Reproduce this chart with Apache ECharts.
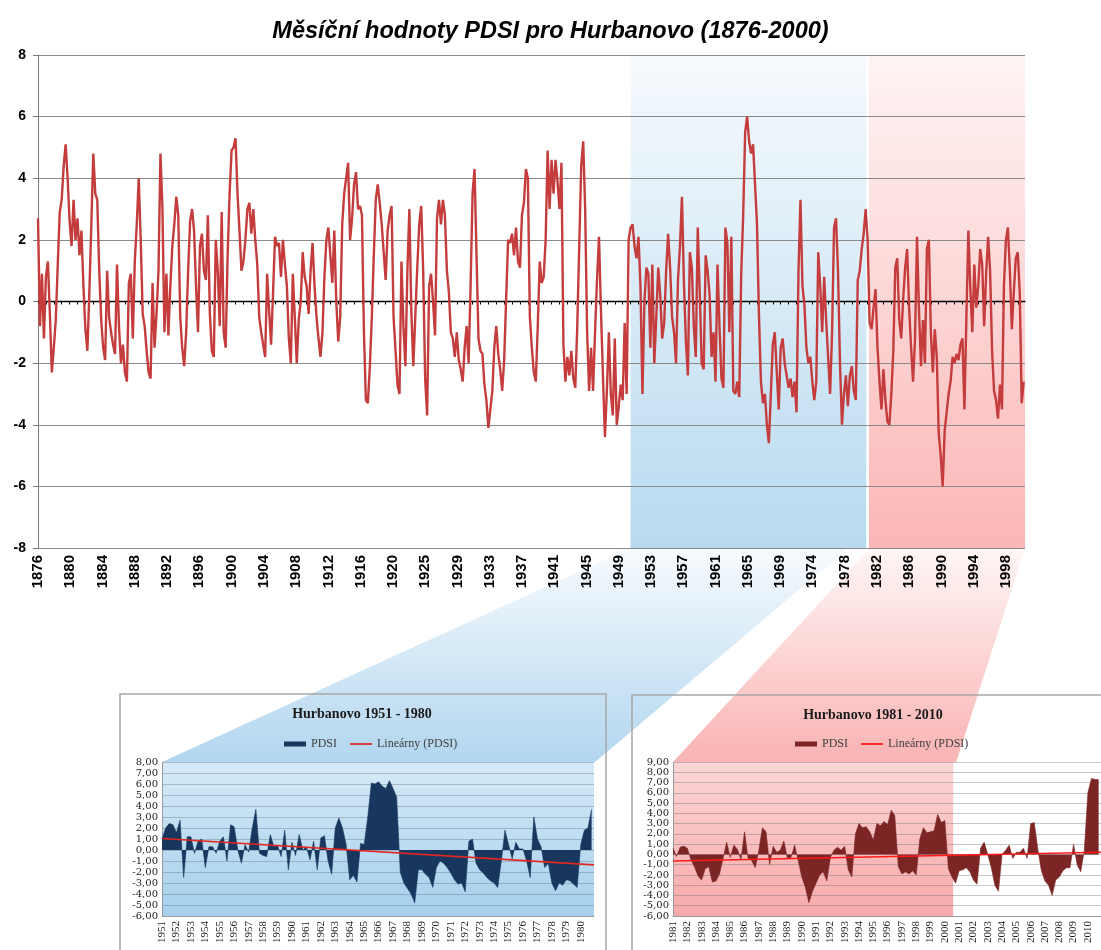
<!DOCTYPE html>
<html lang="cs">
<head>
<meta charset="utf-8">
<title>Měsíční hodnoty PDSI pro Hurbanovo</title>
<script src="https://cdn.jsdelivr.net/npm/echarts@6.0.0/dist/echarts.min.js"></script>
<style>
  html, body { margin: 0; padding: 0; background: #fff; }
  #chart { width: 1101px; height: 950px; }
</style>
</head>
<body>
<div id="chart"></div>
<script>
// ---- data ----
const firstYear = 1876;
const monthCount = 1500;      // 1876-01 .. 2000-12
const sampleStep = 3;         // one reading every 3rd month
const pdsiMonthly = [
  2.7, -0.8, 0.9, -1.2, 0.8, 1.3, -0.4, -2.3, -1.5, -0.6,
  1.2, 2.9, 3.3, 4.4, 5.1, 4.0, 2.6, 1.8, 3.3, 2.0,
  2.7, 1.5, 2.3, 0.5, -0.9, -1.6, 0.3, 2.5, 4.8, 3.5,
  3.3, 1.0, -0.6, -1.5, -1.9, 1.0, -0.5, -1.0, -1.4, -1.7,
  1.2, -0.8, -2.0, -1.4, -2.3, -2.6, 0.6, 0.9, -1.2, 1.3,
  2.5, 4.0, 2.0, -0.4, -0.8, -1.6, -2.3, -2.5, 0.6, -1.5,
  -0.4, 1.0, 4.8, 3.0, -1.0, 0.9, -1.1, 0.5, 1.8, 2.5,
  3.4, 2.8, -0.5, -1.5, -2.1, -1.0, 1.0, 2.6, 3.0, 2.3,
  0.5, -1.0, 1.8, 2.2, 1.0, 0.7, 2.8, -0.4, -1.6, -1.8,
  2.0, 1.0, -0.8, 2.9, -1.0, -1.5, 1.5, 3.5, 4.9, 5.0,
  5.3, 3.5, 2.3, 1.0, 1.3, 2.0, 3.0, 3.2, 2.2, 3.0,
  2.0, 1.2, -0.5, -1.0, -1.4, -1.8, 0.9, -0.3, -1.4, 0.3,
  2.1, 1.8, 1.9, 0.8, 2.0, 1.2, 0.5, -1.2, -2.0, 0.9,
  -0.5, -2.0, -0.6, 0.0, 1.6, 0.8, 0.5, -0.4, 1.0, 1.9,
  0.5, -0.5, -1.2, -1.8, -1.0, 0.8, 2.0, 2.4, 1.5, 0.6,
  2.3, 0.0, -1.3, -0.5, 2.5, 3.5, 4.0, 4.5, 2.0, 2.7,
  3.8, 4.2, 3.0, 3.1, 2.8, -1.0, -3.2, -3.3, -2.1, -0.5,
  1.5, 3.3, 3.8, 3.2, 2.5, 1.6, 0.7, 2.3, 2.8, 3.1,
  -0.5, -1.6, -2.7, -3.0, 1.3, -0.8, -2.1, 1.0, 3.0, -0.3,
  -2.1, -0.5, 1.1, 2.5, 3.1, 1.0, -2.5, -3.7, 0.5, 0.9,
  0.0, -1.1, 2.7, 3.3, 2.5, 3.3, 2.8, 1.0, 0.3, -1.0,
  -1.2, -1.8, -1.0, -1.9, -2.2, -2.6, -1.5, -0.8, -2.0, 0.5,
  3.5, 4.3, 1.5, -1.2, -1.6, -1.7, -2.7, -3.2, -4.1, -3.5,
  -2.9, -1.5, -0.8, -1.7, -2.2, -2.9, -1.9, 0.1, 2.0, 1.9,
  2.2, 1.5, 2.4, 1.3, 1.1, 2.8, 3.2, 4.3, 4.0, -0.5,
  -1.5, -2.3, -2.6, -0.8, 1.3, 0.6, 0.8, 2.0, 4.9, 3.0,
  4.6, 3.5, 4.6, 3.9, 3.0, 4.5, -1.4, -2.6, -1.8, -2.4,
  -1.6, -2.5, -2.8, -0.8, 1.8, 4.4, 5.2, 3.0, -1.0, -2.9,
  -1.5, -2.9, -1.0, 0.7, 2.1, -0.3, -2.4, -4.4, -2.9, -1.0,
  -3.0, -3.7, -1.2, -4.0, -3.4, -2.7, -3.2, -0.7, -3.0, 2.0,
  2.4, 2.5, 1.8, 1.4, 2.1, 0.5, -3.0, 0.0, 1.1, 0.9,
  -1.5, 1.2, -2.0, -0.5, 1.1, 0.2, -1.2, -0.7, 1.0, 2.2,
  1.1, -0.5, -1.0, -2.0, 0.7, 1.8, 3.4, 0.6, -1.3, -2.4,
  1.6, 1.1, -0.8, -1.8, 2.4, 0.3, -2.0, -2.2, 1.5, 1.0,
  0.2, -1.8, -1.0, -2.6, 1.2, -0.8, -2.5, -2.8, 2.4, 1.9,
  -1.0, 2.1, -2.9, -3.0, -2.6, -3.1, 0.9, 2.8, 5.5, 6.0,
  5.2, 4.8, 5.1, 3.8, 2.5, -0.5, -2.6, -3.3, -3.0, -4.0,
  -4.6, -3.0, -1.4, -1.0, -2.3, -3.5, -1.5, -1.2, -2.0, -2.4,
  -2.8, -2.5, -3.1, -2.6, -3.6, 1.0, 3.3, 0.5, -0.1, -1.5,
  -2.0, -1.8, -2.6, -3.2, -2.6, 1.6, 0.5, -1.0, 0.8, -0.6,
  -1.8, -3.0, -1.0, 2.4, 2.7, 1.0, -2.0, -4.0, -3.0, -2.4,
  -3.4, -2.4, -2.1, -2.9, -3.2, 0.7, 1.0, 1.7, 2.2, 3.0,
  2.0, -0.7, -0.9, -0.2, 0.4, -1.5, -2.6, -3.5, -2.2, -3.2,
  -3.9, -4.0, -3.0, -1.6, 1.1, 1.4, -0.6, -1.2, 0.1, 1.1,
  1.7, -0.2, -1.5, -2.6, -1.2, 2.1, -0.3, -2.1, -0.6, -2.0,
  1.7, 2.0, -1.0, -2.3, -0.9, -1.8, -4.3, -5.0, -6.0, -4.2,
  -3.6, -3.0, -2.6, -1.8, -2.0, -1.7, -1.9, -1.4, -1.2, -3.5,
  -0.5, 2.3, 0.4, -1.0, 1.2, -0.2, 0.5, 1.7, 1.2, -0.8,
  0.9, 2.1, 1.0, -1.6, -2.9, -3.2, -3.8, -2.7, -3.5, 0.5,
  2.0, 2.4, 1.0, -0.9, 0.3, 1.4, 1.6, 0.3, -3.3, -2.6
];
const blueBand = [900, 1258];   // 1951 - 1980 (month index)
const redBand = [1262, 1499];   // 1981 - 2000

// insets: one reading every 3rd month
const insetStep = 3;
const insetMonths = 360;
const pdsi1951 = [
  1.0, 2.0, 2.4, 2.3, 1.6, 2.7, -2.5, 1.2, 1.2, -0.3,
  0.8, 1.0, -1.6, 0.3, 0.3, -0.3, 0.8, 1.2, -1.0, 2.3,
  2.1, 0.0, -1.2, 0.5, -0.2, 2.0, 3.7, -0.3, -0.5, -0.6,
  1.4, 0.3, 0.4, -0.6, 1.8, -1.8, 0.7, -0.5, 1.4, 0.0,
  0.3, -0.9, 0.8, -1.8, 1.1, 1.3, -1.0, -2.2, 2.0, 2.9,
  2.0, 0.5, -2.7, -2.3, -2.9, 0.6, 0.5, 3.0, 6.1, 6.0,
  6.2, 5.8, 5.6, 6.3, 5.6, 4.8, -2.0, -3.0, -3.5, -4.0,
  -4.8, -1.8, -1.8, -2.2, -2.5, -3.4, -1.6, -1.0, -1.2, -1.6,
  -2.1, -2.7, -3.1, -3.0, -3.8, 0.8, 1.0, -1.2, -1.8, -2.1,
  -2.5, -2.8, -3.0, -3.4, -1.0, 1.8, 0.5, -0.8, 0.7, 0.1,
  0.1, -1.0, -2.5, 3.0, 1.0, 0.3, -1.6, -1.2, -3.0, -3.7,
  -3.0, -3.2, -2.7, -2.8, -3.1, -3.4, 0.5, 1.8, 2.0, 3.7
];
const trend1951 = [1.05, -1.35];
const pdsi1981 = [
  0.6, -0.2, 0.7, 0.8, 0.6, -0.5, -1.2, -2.1, -2.5, -1.4,
  -1.2, -2.7, -2.6, -1.9, -0.4, 1.2, -0.3, 0.9, 0.5, -0.5,
  2.2, -0.4, -0.6, -1.3, 0.4, 2.6, 2.2, -1.0, 0.8, 0.2,
  0.4, 1.3, -0.4, -0.3, 0.9, -0.6, -2.2, -3.2, -4.7, -3.6,
  -2.8, -2.0, -1.7, -2.6, -0.3, 0.4, 0.7, 0.4, 0.8, -1.5,
  -2.2, 2.0, 3.0, 2.6, 2.7, 2.2, 1.4, 3.0, 2.8, 3.2,
  2.9, 4.3, 3.8, -1.2, -1.9, -1.7, -1.9, -1.6, -2.0, 1.5,
  2.6, 2.1, 2.2, 2.3, 3.9, 3.1, 3.3, -1.4, -2.2, -2.8,
  -1.6, -1.5, -1.3, -1.7, -2.5, -2.9, 0.6, 1.2, 0.0, -1.3,
  -3.0, -3.6, 0.0, 0.4, 0.9, -0.4, 0.2, 0.2, 0.6, -0.4,
  3.0, 3.1, 0.5, -1.6, -2.6, -3.0, -4.0, -2.5, -2.2, -1.6,
  -1.3, -1.3, 1.0, -1.0, -1.7, 0.4, 6.0, 7.4, 7.3, 7.3
];
const trend1981 = [-0.65, 0.21];
const pinkBand = [0, 235];     // 1981 - 2000 inside the second inset

// ---- layout ----
const MAIN = { left: 38, top: 55, width: 987, height: 493 };
const INSET_A = { left: 162, top: 762, width: 432, height: 154 };
const INSET_B = { left: 673, top: 762, width: 432, height: 154 };
const SANS = '"Liberation Sans", Arial, sans-serif';
const SERIF = '"Liberation Serif", "Times New Roman", serif';
const WIDE_SERIF = '"DejaVu Serif", serif';
const LINE_ICON = 'path://M0 0H100V8H0Z';

function monthLabels(year0, count) {
  const out = [];
  for (let i = 0; i < count; i++) {
    out.push(String(year0 + Math.floor(i / 12)));
  }
  return out;
}
function vGrad(top, bottom) {
  return new echarts.graphic.LinearGradient(0, 0, 0, 1, [
    { offset: 0, color: top },
    { offset: 1, color: bottom }
  ]);
}
const commaFmt = v => v.toFixed(2).replace('.', ',');

const mainCats = monthLabels(firstYear, monthCount);
const catsA = monthLabels(1951, insetMonths);
const catsB = monthLabels(1981, insetMonths);

const insetX = (cats, idx) => ({
  type: 'category', gridIndex: idx, data: cats, boundaryGap: false,
  axisLine: { onZero: false, lineStyle: { color: '#9a9a9a' } },
  axisTick: { show: false },
  axisLabel: {
    interval: 11, rotate: 90, margin: 5,
    fontFamily: SERIF, fontSize: 11, color: '#222'
  },
  splitLine: { show: false }
});
const insetY = (min, max, idx) => ({
  type: 'value', gridIndex: idx, min: min, max: max, interval: 1,
  axisLine: { show: true, lineStyle: { color: '#9a9a9a' } },
  axisTick: { show: false },
  axisLabel: {
    formatter: commaFmt, fontFamily: WIDE_SERIF, fontSize: 10, color: '#222', margin: 4,
    showMinLabel: true, showMaxLabel: true, hideOverlap: false
  },
  splitLine: { lineStyle: { color: 'rgba(90,100,115,0.35)', width: 1 } }
});

const legendBase = {
  top: 733, itemWidth: 22, itemHeight: 5, itemGap: 13,
  selectedMode: false,
  textStyle: { fontFamily: SERIF, fontSize: 12, color: '#404040' }
};

const chart = echarts.init(document.getElementById('chart'));

const option = {
  animation: false,
  backgroundColor: '#fff',
  title: {
    text: 'Měsíční hodnoty PDSI pro Hurbanovo (1876-2000)',
    left: 'center', top: 15,
    textStyle: { fontFamily: SANS, fontSize: 23.5, fontWeight: 'bold', fontStyle: 'italic', color: '#000' }
  },
  legend: [
    Object.assign({}, legendBase, {
      left: 279,
      data: [
        { name: 'PDSI', icon: 'rect' },
        { name: 'Lineárny (PDSI)', icon: LINE_ICON, itemStyle: { color: '#e3261f' } }
      ]
    }),
    Object.assign({}, legendBase, {
      left: 790,
      data: [
        { name: 'PDSI', icon: 'rect', itemStyle: { color: '#7c2525' } },
        { name: 'Lineárny (PDSI)', icon: LINE_ICON, itemStyle: { color: '#ff1a1a' } }
      ]
    })
  ],
  grid: [
    Object.assign({}, MAIN),
    Object.assign({}, INSET_A),
    Object.assign({}, INSET_B)
  ],
  xAxis: [
    { // labels at the bottom
      type: 'category', gridIndex: 0, data: mainCats, boundaryGap: false,
      axisLine: { show: false, onZero: false },
      axisTick: { show: false },
      axisLabel: {
        interval: 48, rotate: 90, margin: 7,
        fontFamily: SANS, fontSize: 15, fontWeight: 'bold', color: '#000'
      },
      splitLine: { show: false }
    },
    { // axis line with yearly ticks on the zero level
      type: 'category', gridIndex: 0, data: mainCats, boundaryGap: false, position: 'bottom',
      axisLine: { onZero: true, lineStyle: { color: '#000', width: 1.3 } },
      axisTick: { show: true, interval: 11, length: 3, lineStyle: { color: '#000' } },
      axisLabel: { show: false },
      splitLine: { show: false }
    },
    insetX(catsA, 1),
    insetX(catsB, 2)
  ],
  yAxis: [
    {
      type: 'value', gridIndex: 0, min: -8, max: 8, interval: 2,
      axisLine: { show: true, lineStyle: { color: '#7a7a7a' } },
      axisTick: { show: true, length: 5, lineStyle: { color: '#7a7a7a' } },
      axisLabel: { fontFamily: SANS, fontSize: 14, fontWeight: 'bold', color: '#000', margin: 12 },
      splitLine: { lineStyle: { color: '#8a8a8a', width: 1.2 } }
    },
    insetY(-6, 8, 1),
    insetY(-6, 9, 2)
  ],
  series: [
    {
      name: 'PDSI Hurbanovo', type: 'line', xAxisIndex: 0, yAxisIndex: 0,
      data: pdsiMonthly.map((v, i) => [i * sampleStep, v]),
      showSymbol: false, symbol: 'none', z: 3,
      lineStyle: { color: '#c43c3c', width: 2.4 },
      markArea: {
        silent: true, z: -1,
        label: { show: false },
        data: [
          [{ xAxis: blueBand[0], itemStyle: { color: vGrad('#f6fafd', '#b8daf0') } }, { xAxis: blueBand[1] }],
          [{ xAxis: redBand[0], itemStyle: { color: vGrad('#fff4f4', '#fbb6b6') } }, { xAxis: redBand[1] }]
        ]
      }
    },
    {
      name: 'PDSI', type: 'line', xAxisIndex: 2, yAxisIndex: 1,
      data: pdsi1951.map((v, j) => [j * insetStep, v]),
      symbol: 'none', z: 3,
      itemStyle: { color: '#17375e' },
      lineStyle: { width: 0.6, color: '#17375e' },
      areaStyle: { color: '#17375e', opacity: 1 },
      markArea: {
        silent: true, z: -1, label: { show: false },
        data: [[{ xAxis: 0, itemStyle: { color: vGrad('#d6ebf8', '#a6cfec') } }, { xAxis: insetMonths - 1 }]]
      }
    },
    {
      name: 'Lineárny (PDSI)', type: 'line', xAxisIndex: 2, yAxisIndex: 1,
      data: [[0, trend1951[0]], [insetMonths - 1, trend1951[1]]],
      symbol: 'none', z: 4,
      itemStyle: { color: '#e3261f' },
      lineStyle: { color: '#e3261f', width: 1.6 }
    },
    {
      name: 'PDSI', type: 'line', xAxisIndex: 3, yAxisIndex: 2,
      data: pdsi1981.map((v, j) => [j * insetStep, v]),
      symbol: 'none', z: 3,
      itemStyle: { color: '#7c2525' },
      lineStyle: { width: 0.6, color: '#7c2525' },
      areaStyle: { color: '#7c2525', opacity: 1 },
      markArea: {
        silent: true, z: -1, label: { show: false },
        data: [[{ xAxis: pinkBand[0], itemStyle: { color: vGrad('#fcd6d6', '#f7a9a9') } }, { xAxis: pinkBand[1] }]]
      }
    },
    {
      name: 'Lineárny (PDSI)', type: 'line', xAxisIndex: 3, yAxisIndex: 2,
      data: [[0, trend1981[0]], [insetMonths - 1, trend1981[1]]],
      symbol: 'none', z: 4,
      itemStyle: { color: '#ff1a1a' },
      lineStyle: { color: '#ff1a1a', width: 1.6 }
    }
  ]
};

chart.setOption(option);

// connector shapes from the highlighted periods down to the insets
const px = (axisIndex, idx) => chart.convertToPixel({ xAxisIndex: axisIndex }, idx);
const mainBottom = MAIN.top + MAIN.height;
const bluePoly = [
  [px(0, blueBand[0]), mainBottom],
  [px(0, blueBand[1]) - 18, mainBottom],
  [INSET_A.left + INSET_A.width + 1, INSET_A.top],
  [INSET_A.left, INSET_A.top]
];
const redPoly = [
  [px(0, redBand[0]) + 1, mainBottom],
  [px(0, redBand[1]), mainBottom],
  [px(3, pinkBand[1]) + 3, INSET_B.top],
  [INSET_B.left, INSET_B.top]
];
const boxA = { x: 120, y: 694, width: 486, height: 300 };
const boxB = { x: 632, y: 695, width: 520, height: 300 };

chart.setOption({
  graphic: [
    { type: 'rect', shape: boxA, style: { fill: '#fff' }, z: -10, silent: true },
    { type: 'rect', shape: boxB, style: { fill: '#fff' }, z: -10, silent: true },
    { type: 'polygon', shape: { points: bluePoly }, style: { fill: vGrad('#f8fbfe', '#b2d6ef') }, z: -5, silent: true },
    { type: 'polygon', shape: { points: redPoly }, style: { fill: vGrad('#fff6f6', '#f9b3b3') }, z: -5, silent: true },
    { type: 'rect', shape: boxA, style: { fill: 'none', stroke: '#a6a6a6', lineWidth: 1.5 }, z: 6, silent: true },
    { type: 'rect', shape: boxB, style: { fill: 'none', stroke: '#a6a6a6', lineWidth: 1.5 }, z: 6, silent: true },
    {
      type: 'text', x: 362, y: 714, z: 10, silent: true,
      style: { text: 'Hurbanovo 1951 - 1980', font: 'bold 14px ' + SERIF, fill: '#1a1a1a', align: 'center', verticalAlign: 'middle' }
    },
    {
      type: 'text', x: 873, y: 715, z: 10, silent: true,
      style: { text: 'Hurbanovo 1981 - 2010', font: 'bold 14px ' + SERIF, fill: '#1a1a1a', align: 'center', verticalAlign: 'middle' }
    }
  ]
});
</script>
</body>
</html>
